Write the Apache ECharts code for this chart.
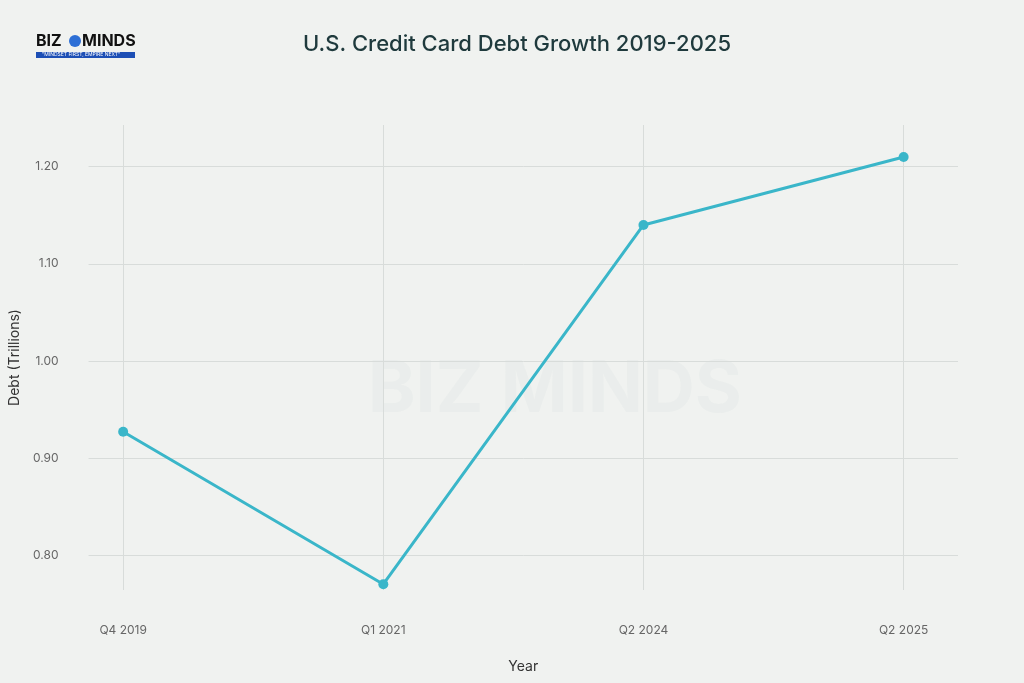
<!DOCTYPE html>
<html><head><meta charset="utf-8">
<script src="https://cdn.jsdelivr.net/npm/echarts@6/dist/echarts.min.js"></script>
<style>html,body{margin:0;padding:0;background:#f0f2f0}#c{width:1024px;height:683px}</style>
</head><body><div id="c"></div>
<script>
const categories = ['Q4 2019','Q1 2021','Q2 2024','Q2 2025'];
const debt = [0.927, 0.770, 1.14, 1.21];
const yTicks = [0.8, 0.9, 1.0, 1.1, 1.2];

const chart = echarts.init(document.getElementById('c'));
chart.setOption({
  backgroundColor: '#f0f2f0',
  title: {text: 'U.S. Credit Card Debt Growth 2019-2025', left: 512, top: 28, textAlign: 'center',
    textStyle: {fontFamily: 'Inter', fontSize: 22, fontWeight: 500, color: '#1f3a3d'}},
  graphic: [
    {type: 'text', style: {x: 36, y: 33, text: 'BIZ', font: 'bold 16px Inter', fill: '#111'}},
    {type: 'circle', shape: {cx: 75, cy: 41, r: 6}, style: {fill: '#2d6fd6'}},
    {type: 'text', style: {x: 82, y: 33, text: 'MINDS', font: 'bold 16px Inter', fill: '#111'}},
    {type: 'rect', shape: {x: 36, y: 52, width: 99, height: 6}, style: {fill: '#1d4fb5'}},
    {type: 'text', style: {x: 42, y: 52, text: '"MINDSET FIRST, EMPIRE NEXT"', font: '5px Inter', fill: '#fff'}},
    {type: 'text', z: -1, style: {x: 555, y: 390, text: 'BIZ MINDS', font: 'bold 72px Inter', fill: 'rgba(200,215,215,0.14)', align: 'center', verticalAlign: 'middle'}}
  ],
  grid: {left: 85, right: 66, top: 125, bottom: 93},
  xAxis: {type: 'value', min: -0.133, max: 3.209, name: 'Year', nameLocation: 'middle', nameGap: 70,
    nameTextStyle: {fontFamily: 'Inter', fontSize: 14, color: '#333'},
    axisLine: {show: false}, axisTick: {show: false, customValues: [0,1,2,3]},
    axisLabel: {customValues: [0,1,2,3], formatter: v => categories[Math.round(v)], color: '#666', fontFamily: 'Inter', fontSize: 12, margin: 34},
    splitLine: {show: true, lineStyle: {color: '#d8dcda'}}},
  yAxis: {type: 'value', min: 0.764, max: 1.243, name: 'Debt (Trillions)', nameLocation: 'middle', nameGap: 62,
    nameTextStyle: {fontFamily: 'Inter', fontSize: 14, color: '#333'},
    axisLine: {show: false}, axisTick: {show: false, customValues: yTicks},
    axisLabel: {customValues: yTicks, formatter: v => v.toFixed(2), color: '#666', fontFamily: 'Inter', fontSize: 12, margin: 30},
    splitLine: {show: true, lineStyle: {color: '#d8dcda'}}},
  series: [{type: 'line', data: debt.map((v, i) => [i, v]), symbol: 'circle', symbolSize: 10,
    lineStyle: {color: '#3ab6c9', width: 3}, itemStyle: {color: '#3ab6c9'}}]
});
</script></body></html>
